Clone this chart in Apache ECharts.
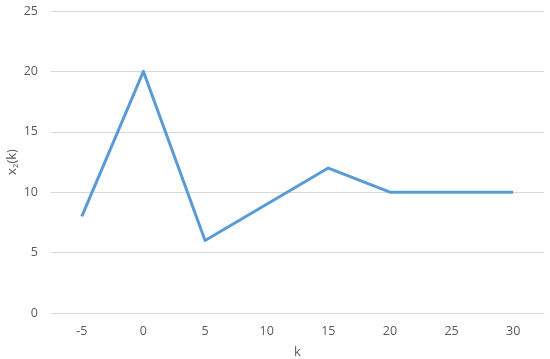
<!DOCTYPE html>
<html>
<head>
<meta charset="utf-8">
<script src="https://cdn.jsdelivr.net/npm/echarts@6/dist/echarts.min.js"></script>
<style>
  html, body { margin: 0; padding: 0; background: #fff; }
  #chart { width: 550px; height: 359px; }
</style>
</head>
<body>
<div id="chart"></div>
<script>
const kValues = ['-5', '0', '5', '10', '15', '20', '25', '30'];
const x2Values = [8, 20, 6, 9, 12, 10, 10, 10];

const labelFont = 'Open Sans, Noto Sans, sans-serif';
const textColor = '#595959';

const chart = echarts.init(document.getElementById('chart'));
chart.setOption({
  animation: false,
  grid: { left: 51, right: 6, top: 11, bottom: 46, outerBoundsMode: 'none', containLabel: false },
  xAxis: {
    type: 'category',
    data: kValues,
    boundaryGap: true,
    name: 'k',
    nameLocation: 'middle',
    nameGap: 33,
    nameMoveOverlap: false,
    nameTextStyle: { color: textColor, fontSize: 13, fontFamily: labelFont },
    axisLine: { lineStyle: { color: '#d9d9d9', width: 1 } },
    axisTick: { show: false },
    axisLabel: { color: textColor, fontSize: 12.5, fontFamily: labelFont, margin: 12 }
  },
  yAxis: {
    type: 'value',
    min: 0,
    max: 25,
    interval: 5,
    name: '{a|x}{b|2}{a|(k)}',
    nameLocation: 'middle',
    nameRotate: 90,
    nameGap: 31,
    nameMoveOverlap: false,
    nameTextStyle: {
      rich: {
        a: { color: textColor, fontSize: 13, fontFamily: labelFont },
        b: { color: textColor, fontSize: 8, fontFamily: labelFont, padding: [8, 0, 0, 0] }
      }
    },
    axisLine: { show: false },
    axisTick: { show: false },
    axisLabel: { color: textColor, fontSize: 12.5, fontFamily: labelFont, margin: 13 },
    splitLine: { lineStyle: { color: '#d9d9d9', width: 1 } }
  },
  series: [{
    type: 'line',
    data: x2Values,
    symbol: 'none',
    lineStyle: { color: '#5b9bd5', width: 3, join: 'round' }
  }]
});
</script>
</body>
</html>
